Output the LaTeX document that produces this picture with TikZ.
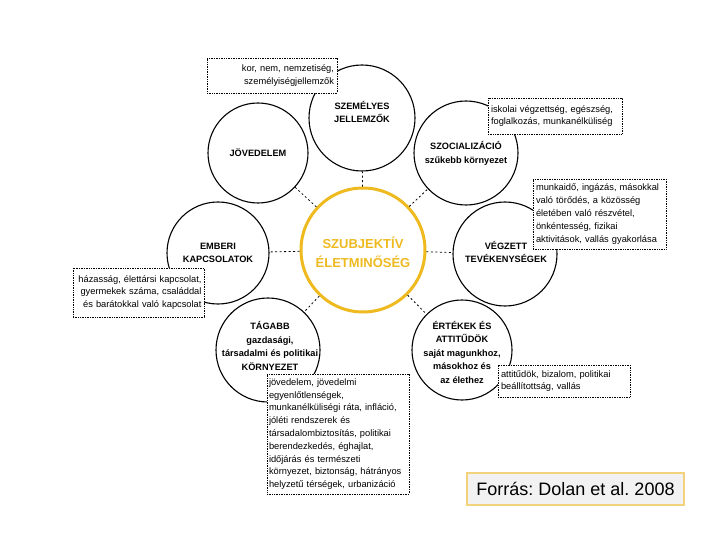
\documentclass[tikz,border=0pt]{standalone}
\usepackage{fontspec}
\setmainfont{Liberation Sans}
\frenchspacing
\definecolor{ylw}{RGB}{238,186,32}
\definecolor{srcfill}{RGB}{242,242,242}
\definecolor{srcdraw}{RGB}{242,210,122}
\begin{document}
\begin{tikzpicture}[x=1pt,y=-1pt,
  outer/.style={circle,draw=black,line width=1.1pt,inner sep=0pt,minimum size=#1},
  ctext/.style={font=\fontsize{9.2}{13.5}\selectfont\bfseries,align=center,inner sep=0pt},
  infobox/.style={draw=black,fill=white,line width=0.6pt,dash pattern=on 0.8pt off 0.9pt,
    font=\fontsize{9.3}{12.8}\selectfont,inner sep=2pt},
  link/.style={line width=0.8pt,dash pattern=on 2pt off 2.5pt}]
\fill[white] (0,0) rectangle (720,540);
\useasboundingbox (0,0) rectangle (720,540);

% outer circles
\node[outer=106pt] (pers) at (362,118) {};
\node[outer=100pt] (inc)  at (258,153) {};
\node[outer=104pt] (soc)  at (466,153) {};
\node[outer=102pt] (hum)  at (218,253) {};
\node[outer=104pt] (act)  at (505,254) {};
\node[outer=104pt] (wid)  at (268,350) {};
\node[outer=100pt] (val)  at (462,350) {};

% centre circle
\node[circle,draw=ylw,line width=3pt,minimum size=124pt,inner sep=0pt] (core) at (363,250) {};
\node[font=\fontsize{13}{19}\selectfont\bfseries,text=ylw,align=center,inner sep=0pt] (coretext) at (363,252) {SZUBJEKTÍV\\ÉLETMINŐSÉG};

% circle labels
\node[ctext] (perst) at (362,112) {SZEMÉLYES\\JELLEMZŐK};
\node[ctext] (inct)  at (258,153) {JÖVEDELEM};
\node[ctext] (soct)  at (466,153.5) {SZOCIALIZÁCIÓ\\szűkebb környezet};
\node[ctext] (humt)  at (218,253) {EMBERI\\KAPCSOLATOK};
\node[ctext] (actt)  at (506,252) {VÉGZETT\\TEVÉKENYSÉGEK};
\node[ctext] (widt)  at (270,346) {TÁGABB\\gazdasági,\\társadalmi és politikai\\KÖRNYEZET};
\node[ctext] (valt)  at (462,352) {ÉRTÉKEK ÉS\\ATTITŰDÖK\\saját magunkhoz,\\másokhoz és\\az élethez};

% dotted links
\foreach \o in {pers,inc,soc,hum,act,wid,val}
  \draw[link] (core) -- (\o);

% info boxes
\node[infobox,minimum width=130pt,minimum height=35pt,text width=124pt,align=right] (b1) at (272,75.5)
  {kor, nem, nemzetiség,\\személyiségjellemzők};
\node[infobox,minimum width=134pt,minimum height=36pt,text width=128pt,align=left] (b2) at (555,116)
  {iskolai végzettség, egészség,\\foglalkozás, munkanélküliség};
\node[infobox,minimum width=133pt,minimum height=70pt,text width=127pt,align=left] (b3) at (599.5,214)
  {munkaidő, ingázás, másokkal\\való törődés, a közösség\\életében való részvétel,\\önkéntesség, fizikai\\aktivitások, vallás gyakorlása};
\node[infobox,minimum width=131pt,minimum height=49pt,text width=126pt,align=right,inner sep=1.5pt] (b4) at (138.5,292.5)
  {házasság, élettársi kapcsolat,\\gyermekek száma, családdal\\és barátokkal való kapcsolat};
\node[infobox,minimum width=142pt,minimum height=120pt,text width=138pt,align=left,inner sep=1.5pt] (b5) at (338,434)
  {jövedelem, jövedelmi\\egyenlőtlenségek,\\munkanélküliségi ráta, infláció,\\jóléti rendszerek és\\társadalombiztosítás, politikai\\berendezkedés, éghajlat,\\időjárás és természeti\\környezet, biztonság, hátrányos\\helyzetű térségek, urbanizáció};
\node[infobox,minimum width=132pt,minimum height=32pt,text width=126pt,align=left] (b6) at (564,381)
  {attitűdök, bizalom, politikai\\beállítottság, vallás};

% source
\node[draw=srcdraw,fill=srcfill,line width=1.2pt,minimum width=217pt,minimum height=32pt,
  font=\fontsize{18}{20}\selectfont,inner sep=0pt] (src) at (575.5,489) {Forrás: Dolan et al. 2008};
\end{tikzpicture}
\end{document}
